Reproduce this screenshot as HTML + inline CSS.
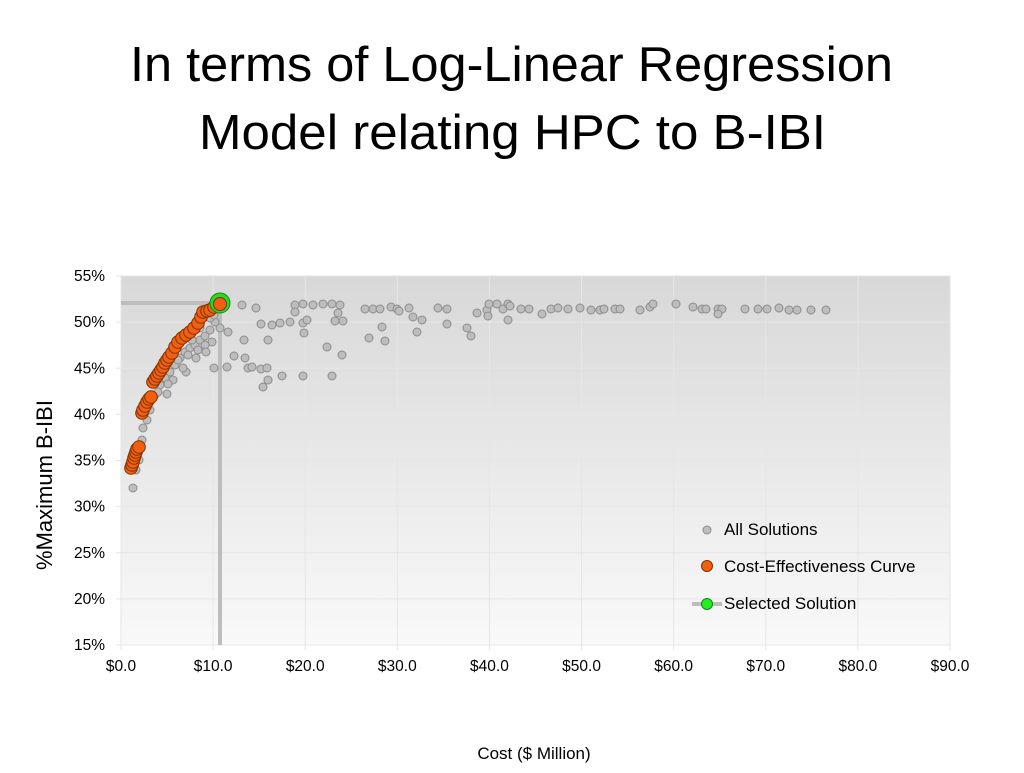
<!DOCTYPE html>
<html><head><meta charset="utf-8"><style>
body{margin:0;width:1024px;height:768px;background:#fff;overflow:hidden;font-family:"Liberation Sans",Arial,sans-serif}
</style></head><body>
<svg width="1024" height="768" xmlns="http://www.w3.org/2000/svg" font-family="Liberation Sans, Arial, sans-serif">
<defs><linearGradient id="bg" x1="0" y1="0" x2="0" y2="1"><stop offset="0" stop-color="#d8d8d8"/><stop offset="1" stop-color="#f9f9f9"/></linearGradient></defs>
<text x="130" y="81" font-size="49" textLength="763" lengthAdjust="spacingAndGlyphs" fill="#000">In terms of Log-Linear Regression</text>
<text x="199" y="149" font-size="49" textLength="627" lengthAdjust="spacingAndGlyphs" fill="#000">Model relating HPC to B-IBI</text>
<rect x="121" y="276" width="829" height="369" fill="url(#bg)" stroke="#bbb" stroke-width="1"/>
<g id="grid" stroke="#e6e6e6" stroke-width="1"></g>
<g id="labels" font-size="15.5" fill="#000"></g>
<line x1="121" y1="303" x2="220" y2="303" stroke="#bdbdbd" stroke-width="4"/>
<line x1="220" y1="303" x2="220" y2="645" stroke="#bdbdbd" stroke-width="4"/>
<g id="gray" fill="#bdbdbd" stroke="#8c8c8c" stroke-width="1"></g>
<g id="orange" fill="#f06010" stroke="#803000" stroke-width="1"></g>
<circle cx="220" cy="303" r="10" fill="#22dd22" stroke="#118811"/>
<circle cx="220" cy="304" r="6.5" fill="#f06010" stroke="#803000"/>
<circle cx="707" cy="530" r="4" fill="#bdbdbd" stroke="#8c8c8c"/>
<text x="724" y="535" font-size="17">All Solutions</text>
<circle cx="707" cy="566" r="5.5" fill="#f06010" stroke="#803000"/>
<text x="724" y="572" font-size="17">Cost-Effectiveness Curve</text>
<line x1="692" y1="604" x2="722" y2="604" stroke="#bdbdbd" stroke-width="4"/>
<circle cx="707" cy="604" r="5.5" fill="#22ee22" stroke="#118811"/>
<text x="724" y="609" font-size="17">Selected Solution</text>
<text x="534" y="759" font-size="17" text-anchor="middle">Cost ($ Million)</text>
<text transform="translate(52,485) rotate(-90)" font-size="22" text-anchor="middle">%Maximum B-IBI</text>
</svg>
<script>
var NS="http://www.w3.org/2000/svg";
function el(p,t,a,txt){var e=document.createElementNS(NS,t);for(var k in a)e.setAttribute(k,a[k]);if(txt)e.textContent=txt;document.getElementById(p).appendChild(e);}
for(var i=0;i<=8;i++){var y=276+i*369/8;el('grid','line',{x1:116,x2:950,y1:y,y2:y});el('labels','text',{x:105,y:y+5,'text-anchor':'end'},(55-5*i)+'%');}
for(var i=0;i<=9;i++){var x=121+i*829/9;el('grid','line',{x1:x,x2:x,y1:276,y2:650});el('labels','text',{x:x,y:671,'text-anchor':'middle'},'$'+(i*10)+'.0');}
var g=[[242,305],[256,308],[261,324],[272,325],[280,323],[290,322],[303,323],[307,320],[295,305],[303,304],[313,305],[323,304],[332,304],[340,305],[338,313],[343,321],[335,321],[295,312],[304,333],[327,347],[342,355],[244,340],[268,340],[234,356],[245,358],[248,368],[252,367],[261,369],[267,368],[268,380],[263,387],[282,376],[303,376],[332,376],[214,368],[227,367],[228,332],[220,328],[212,342],[186,372],[167,394],[143,428],[142,440],[133,488],
[365,309],[373,309],[380,309],[391,307],[397,309],[399,311],[409,308],[413,317],[422,320],[417,332],[382,327],[369,338],[385,341],[438,308],[447,309],[447,324],[467,328],[471,336],[477,313],[487,310],[489,304],[488,316],[497,304],[503,309],[508,304],[510,306],[508,320],[521,309],[529,309],[542,314],[551,309],[558,308],[568,309],[580,308],[591,310],[600,310],[604,309],[615,309],[620,309],[640,310],[650,307],[653,304],[676,304],[693,307],[702,309],[706,309],[718,309],[722,309],[718,314],[745,309],[758,309],[767,309],[779,308],[789,310],[797,310],[811,310],[826,310],
[150,410],[155,395],[160,385],[165,378],[170,372],[175,365],[180,358],[185,352],[190,348],[195,345],[200,340],[205,336],[210,330],[215,322],[178,360],[188,355],[198,350],[205,345],[192,340],[183,368],[173,380],[210,318],[214,315],[200,328],[147,420],[139,460],[136,470],[158,392],[168,384],[196,358],[206,352]];
g.forEach(function(p){el('gray','circle',{cx:p[0],cy:p[1],r:4});});
var o=[[131,468],[132,465],[133,462],[134,458],[135,455],[136,452],[137,449],[139,447],[142,413],[143,410],[145,406],[147,402],[149,399],[151,397],[153,382],[155,379],[157,376],[159,373],[161,370],[163,367],[165,363],[167,360],[169,357],[172,353],[175,347],[178,342],[182,338],[186,335],[190,332],[194,328],[198,323],[201,317],[203,312],[207,311],[210,310],[214,307],[217,305]];
o.forEach(function(p){el('orange','circle',{cx:p[0],cy:p[1],r:6.3});});
</script>
</body></html>
